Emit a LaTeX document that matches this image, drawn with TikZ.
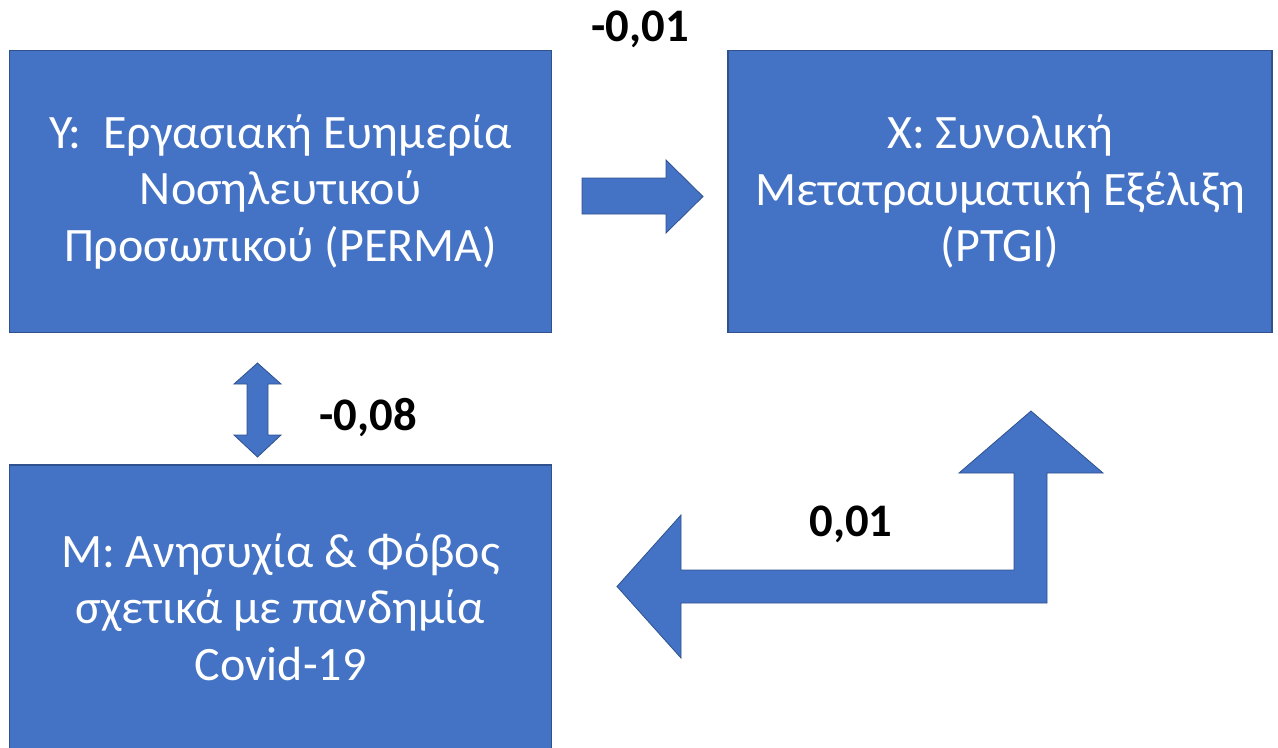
\documentclass[tikz,border=0pt]{standalone}
\usepackage{fontspec}
\setmainfont{Carlito}
\usetikzlibrary{positioning}
\definecolor{boxblue}{HTML}{4472C4}
\definecolor{edgeblue}{HTML}{2F528F}
\tikzset{
  varbox/.style={fill=boxblue, draw=edgeblue, line width=0.8pt, text=white, align=center,
    minimum width=406pt, minimum height=212pt, inner sep=0pt,
    font=\fontsize{36}{42.4}\selectfont},
  blockarrow/.style={fill=boxblue, draw=edgeblue, line width=0.6pt, line join=miter},
  coef/.style={font=\fontsize{35}{40}\selectfont\bfseries, anchor=base, inner sep=0pt}
}
\begin{document}
\begin{tikzpicture}[x=0.75pt,y=-0.75pt]
\useasboundingbox (0,0) rectangle (1278,747);
\clip (0,0) rectangle (1278,747);
\node[varbox] (Y) at (280.5,191.5) {Y:\ \ Εργασιακή Ευημερία\\Νοσηλευτικού\\Προσωπικού (PERMA)};
\node[varbox, minimum width=408pt] (X) at (1000,191.5) {X: Συνολική\\Μετατραυματική Εξέλιξη\\(PTGI)};
\node[varbox, minimum height=213pt] (M) at (280.5,607) {M: Ανησυχία \& Φόβος\\σχετικά με πανδημία\\Covid-19};
\draw[blockarrow] (582,178) -- (666,178) -- (666,160) -- (703,196.5) -- (666,233) -- (666,214) -- (582,214) -- cycle;
\draw[blockarrow] (257.5,363) -- (281,384) -- (268,384) -- (268,435) -- (281,435) -- (257.5,457)
  -- (234,435) -- (247,435) -- (247,384) -- (234,384) -- cycle;
\draw[blockarrow] (617,586.5) -- (681,515) -- (681,570) -- (1014,570) -- (1014,473) -- (959,473)
  -- (1031,411) -- (1103,473) -- (1047,473) -- (1047,603) -- (681,603) -- (681,658) -- cycle;
\node[coef] (yx) at (640,41) {-0,01};
\node[coef] (ym) at (368,430) {-0,08};
\node[coef] (mx) at (851,536) {0,01};
\end{tikzpicture}
\end{document}
